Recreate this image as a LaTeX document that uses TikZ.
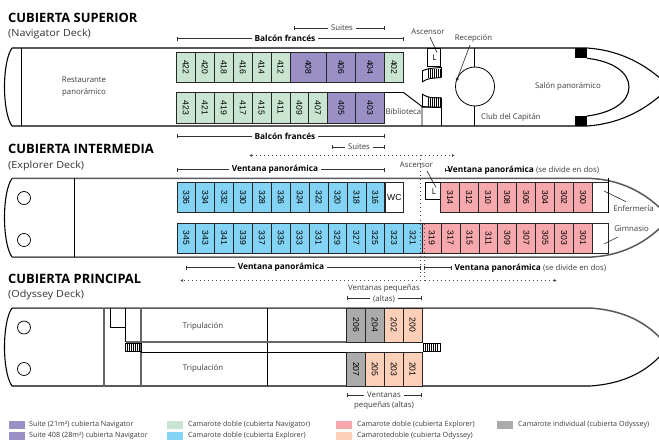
\documentclass[tikz,border=0pt]{standalone}
\usepackage{fontspec}
\setmainfont{Open Sans}
\newfontfamily\numfont{Liberation Sans}
\newfontfamily\subfont[FakeStretch=1.1]{Open Sans}
\usetikzlibrary{arrows.meta}
\definecolor{cgreen}{HTML}{C9E5D1}
\definecolor{cpurple}{HTML}{9A90C6}
\definecolor{cblue}{HTML}{82D3F4}
\definecolor{cpink}{HTML}{F6A8AC}
\definecolor{cpeach}{HTML}{FBCFB8}
\definecolor{cgray}{HTML}{ABABAB}
\definecolor{ink}{HTML}{3C3C3C}
\tikzset{
  hull/.style={line width=1.1pt,black},
  hullg/.style={line width=1.5pt,black!65},
  wall/.style={line width=0.95pt,black},
  wallg/.style={line width=1.3pt,black!60},
  cabinbox/.style={draw=black!85,line width=0.9pt},
  cabinnum/.style={font=\numfont\fontsize{8.6}{9}\selectfont,rotate=-90,text=black,inner sep=0pt},
  lab/.style={font=\fontsize{7.8}{9}\selectfont,text=ink,inner sep=0pt,align=center},
  blab/.style={font=\fontsize{8.3}{10}\selectfont\bfseries,text=black,inner sep=1.5pt},
  head/.style={font=\fontsize{12.9}{14}\selectfont\bfseries,text=black,anchor=base west,inner sep=0pt},
  sub/.style={font=\subfont\fontsize{9.8}{11}\selectfont,text=black!80,anchor=base west,inner sep=0pt},
  dim/.style={line width=0.55pt,black!80,{Bar[width=3.5pt,length=0.6pt]}-{Bar[width=3.5pt,length=0.6pt]}},
  leader/.style={line width=0.6pt,black!85},
  dots/.style={line width=0.9pt,black!70,dash pattern=on 0.9pt off 3.1pt},
  legbox/.style={draw=none,minimum width=16pt,minimum height=8pt,inner sep=0pt,anchor=north west},
  legtxt/.style={font=\fontsize{7.2}{8}\selectfont,text=ink,anchor=west,inner sep=0pt},
  port/.style={draw=black,line width=0.7pt,fill=white,circle,minimum size=13pt,inner sep=0pt},
}
% cabin: x1, x2, y1, y2, colour, number
\newcommand{\cabin}[6]{\fill[#5] (#1,#3) rectangle (#2,#4);\draw[cabinbox] (#1,#3) rectangle (#2,#4);
  \node[cabinnum] (c#6) at ({(#1+#2)/2},{(#3+#4)/2}) {#6};}
\newcommand{\stairstripes}[3]{\foreach \sx in {#1} {\draw[line width=0.55pt] (\sx,#2) -- (\sx,#3);}}
\begin{document}
\begin{tikzpicture}[x=1pt,y=-1pt]
\useasboundingbox (0,0) rectangle (659,441);
\fill[white] (0,0) rectangle (659,441);

% ---- headings
\node[head] (h1) at (8,23) {CUBIERTA SUPERIOR};
\node[sub] (s1) at (8,37) {(Navigator Deck)};
\node[head] (h2) at (8,154) {CUBIERTA INTERMEDIA};
\node[sub] (s2) at (8,168) {(Explorer Deck)};
\node[head] (h3) at (8,283) {CUBIERTA PRINCIPAL};
\node[sub] (s3) at (8,297) {(Odyssey Deck)};

% ---- upper deck hull
\draw[hull] (12,48) -- (587,48) .. controls (617,50) and (642,62) .. (662,80);
\draw[hull] (12,126) -- (587,126) .. controls (617,124) and (642,112) .. (662,94);
\draw[hull] (12,48) .. controls (2,62) and (2,112) .. (12,126);
\draw[wall] (21,48) -- (21,126);
\foreach \n/\a/\b in {422/176.5/195.4,420/195.4/214.4,418/214.4/233.3,416/233.3/252.2,414/252.2/271.1,412/271.1/290}
  {\cabin{\a}{\b}{52}{82.5}{cgreen}{\n}}
\foreach \n/\a/\b in {408/290/326.7,406/326.7/355.6,404/355.6/384.5}
  {\cabin{\a}{\b}{52}{82.5}{cpurple}{\n}}
\cabin{384.5}{403.5}{52}{82.5}{cgreen}{402}
\foreach \n/\a/\b in {423/176.5/195.4,421/195.4/214.4,419/214.4/233.3,417/233.3/252.2,415/252.2/271.1,411/271.1/290,409/290/308.5,407/308.5/327}
  {\cabin{\a}{\b}{92.5}{123}{cgreen}{\n}}
\foreach \n/\a/\b in {405/327/355.6,403/355.6/384.5}
  {\cabin{\a}{\b}{92.5}{123}{cpurple}{\n}}
\draw[wall] (384.5,92.5) -- (403.5,92.5) -- (422,106.5) -- (422,126);
\draw[wall] (441.5,107) -- (441.5,126);
\draw[wall] (422,107) -- (441.5,107.5);
\node[lab,font=\fontsize{7.8}{8}\selectfont] (bib) at (403.4,112) {Biblioteca};
\node[lab] (rest) at (84,86.5) {Restaurante\\[3pt]panorámico};
% lift
\draw[wall,fill=white] (427.5,48) rectangle (440.5,66.5);
\node[font=\fontsize{8}{8}\selectfont,inner sep=0pt] (L1) at (434.5,58) {L};
\coordinate (L1t) at (437,52.5);
\node[lab] (asc1) at (428,32) {Ascensor};
\draw[leader] (430,37) -- (L1t);
% stairs
\draw[wall] (422,71) .. controls (428,68.5) .. (441.5,67.5);
\draw[wall] (422,82) .. controls (428,78.5) .. (441.5,77.5);
\draw[wall] (422,71) -- (422,82);
\draw[wall] (441.5,67.5) -- (441.5,77.5);
\stairstripes{428,430,432,434,436,438,440}{69}{78}
\draw[wall] (422,94) .. controls (428,97.5) .. (441.5,98);
\draw[wall] (422,106.5) .. controls (428,107) .. (441.5,107.5);
\draw[wall] (441.5,98) -- (441.5,107.5);
\draw[wall] (422,94) -- (422,106.5);
\stairstripes{428,430,432,434,436,438,440}{97}{107}
% rotunda
\draw[wall] (474.5,48) -- (474.5,126);
\node[draw=black,line width=0.8pt,fill=white,circle,minimum size=39pt,inner sep=0pt] (rot) at (475,86.5) {};
\node[lab] (rec) at (473.5,38.5) {Recepción};
\draw[leader,-{Latex[length=4pt,width=3.5pt]}] (470,45) -- (456,82);
\node[lab] (club) at (511,117.5) {Club del Capitán};
\node[lab] (salon) at (568,86.5) {Salón panorámico};
% bow
\fill[black] (575,48) rectangle (587,58);
\fill[black] (575,116) rectangle (587,126);
\draw[hull] (587,58.3) .. controls (612,61) and (629,72) .. (629,87) .. controls (629,102) and (612,113) .. (587,116);
% dims
\draw[dim] (294,28) -- (384.5,28);
\node[lab,fill=white,inner xsep=3pt] (suit1) at (342,28) {Suites};
\draw[dim] (176.5,38.5) -- (403.5,38.5);
\node[blab,fill=white,inner xsep=3pt] (bf1) at (285,38.5) {Balcón francés};
\draw[dim] (176.5,136) -- (384.5,136);
\node[blab,fill=white,inner xsep=3pt] (bf2) at (285,136.5) {Balcón francés};
\draw[dim] (332,147) -- (384.5,147);
\node[lab,fill=white,inner xsep=3pt] (suit2) at (359,147) {Suites};

% ---- middle deck
\draw[hullg] (12,178.5) -- (592,178.5) .. controls (620,180) and (644,192) .. (662,210);
\draw[hullg] (12,257) -- (592,257) .. controls (620,255.5) and (644,244) .. (662,226);
\draw[hull] (12,178.5) .. controls (2,192) and (2,243) .. (12,257);
\draw[wall] (74.5,178.5) -- (74.5,257);
\node[port] (p1) at (24,198) {};
\node[port] (p2) at (24,240) {};
\foreach \n [count=\i from 0] in {336,334,332,330,328,326,324,322,320,318,316}
  {\pgfmathsetmacro{\a}{177+\i*18.9}\pgfmathsetmacro{\b}{\a+18.9}\cabin{\a}{\b}{182.5}{212.7}{cblue}{\n}}
\draw[cabinbox] (385,182.5) rectangle (403.7,212.7);
\node[font=\numfont\fontsize{8.6}{9}\selectfont,inner sep=0pt] (wc) at (394.3,197.5) {WC};
\draw[wall,fill=white] (425.5,182) rectangle (440.7,199.5);
\node[font=\fontsize{8}{8}\selectfont,inner sep=0pt] (L2) at (434,192) {L};
\coordinate (L2t) at (436,187.5);
\foreach \n [count=\i from 0] in {314,312,310,308,306,304,302,300}
  {\pgfmathsetmacro{\a}{440.7+\i*18.975}\pgfmathsetmacro{\b}{\a+18.975}\cabin{\a}{\b}{182.5}{212.7}{cpink}{\n}}
\draw[cabinbox] (592.5,182.5) -- (608.5,182.5);
\draw[cabinbox] (592.5,212.7) -- (608.5,212.7);
\draw[wall] (608.5,178.5) -- (608.5,212.7);
\foreach \n [count=\i from 0] in {345,343,341,339,337,335,333,331,329,327,325,323,321}
  {\pgfmathsetmacro{\a}{177+\i*18.87}\pgfmathsetmacro{\b}{\a+18.87}\cabin{\a}{\b}{223}{253.3}{cblue}{\n}}
\foreach \n [count=\i from 0] in {319,317,315,311,309,307,305,303,301}
  {\pgfmathsetmacro{\a}{422.3+\i*18.911}\pgfmathsetmacro{\b}{\a+18.911}\cabin{\a}{\b}{223}{253.3}{cpink}{\n}}
\draw[cabinbox] (592.5,223) rectangle (608.5,253.3);
\node[lab] (asc2) at (416.5,164.5) {Ascensor};
\draw[leader] (427,171) -- (L2t);
\node[lab] (enf) at (633.5,209) {Enfermería};
\node[lab] (gim) at (631.5,228.7) {Gimnasio};
\coordinate (enft) at (604,191);
\coordinate (gimt) at (604,244);
\draw[leader] (626,201.7) -- (enft);
\draw[leader] (618,237) -- (gimt);
% dotted
\draw[dots,-{Latex[length=3pt,width=3pt]}] (420.5,155.5) -- (249,155.5);
\draw[dots,-{Latex[length=3pt,width=3pt]}] (420.5,155.5) -- (455,155.5);
\draw[dots] (420.5,155.5) -- (420.5,280.5);
\draw[dots] (424.5,224) -- (424.5,280.5);
\draw[dots,-{Latex[length=3pt,width=3pt]}] (420.5,280.5) -- (180,280.5);
\draw[dots,-{Latex[length=3pt,width=3pt]}] (424.5,280.5) -- (557,280.5);
% dims
\draw[dim] (177,169.5) -- (385,169.5);
\node[blab,fill=white,inner xsep=3pt] (vp1) at (275,169.5) {Ventana panorámica};
\draw[dim] (445,170) -- (450,170);
\node[inner sep=0pt,anchor=west] (vp2) at (447.5,170) {\fontsize{8.3}{10}\selectfont\bfseries\color{black}Ventana panorámica \fontsize{7.8}{10}\selectfont\mdseries\color{ink}(se divide en dos)};
\draw[dim] (186,267.5) -- (420.5,267.5);
\node[blab,fill=white,inner xsep=3pt] (vp3) at (281,267.5) {Ventana panorámica};
\draw[dim] (424,267.5) -- (452,267.5);
\node[inner sep=0pt,anchor=west] (vp4) at (454.5,268) {\fontsize{8.3}{10}\selectfont\bfseries\color{black}Ventana panorámica \fontsize{7.8}{10}\selectfont\mdseries\color{ink}(se divide en dos)};

% ---- lower deck
\draw[hullg] (12,308) -- (590,308) .. controls (620,310) and (644,320) .. (662,340);
\draw[hull] (12,386) -- (590,386) .. controls (620,384) and (644,374) .. (662,354);
\draw[hull] (12,308) .. controls (2,322) and (2,372) .. (12,386);
\node[port] (p3) at (24,327.5) {};
\node[port] (p4) at (24,369) {};
\draw[wallg] (104,308) -- (104,386);
\draw[wallg] (141,308) -- (141,386);
\draw[wall] (110,308) -- (110,327) -- (125.5,327);
\draw[wall] (125.5,308) -- (125.5,342);
\draw[wall] (267,308) -- (267,386);
\draw[wallg] (125.5,342) -- (422,342);
\draw[wall] (141,352.5) -- (422,352.5);
\node[lab] (trip1) at (203,326.5) {Tripulación};
\node[lab] (trip2) at (203,368.5) {Tripulación};
\draw[wall] (125,343.5) rectangle (141,351);
\stairstripes{127,129,131,133,135,137,139}{343.5}{351}
\draw[wall] (423,343.5) rectangle (440,351);
\stairstripes{425,427,429,431,433,435,437}{343.5}{351}
\cabin{346.7}{365.5}{308}{342}{cgray}{206}
\cabin{365.5}{384.3}{308}{342}{cgray}{204}
\cabin{384.3}{403.2}{308}{342}{cpeach}{202}
\cabin{403.2}{422}{308}{342}{cpeach}{200}
\cabin{346.7}{365.5}{352.5}{386}{cgray}{207}
\cabin{365.5}{384.3}{352.5}{386}{cpeach}{205}
\cabin{384.3}{403.2}{352.5}{386}{cpeach}{203}
\cabin{403.2}{422}{352.5}{386}{cpeach}{201}
\node[lab] (vpq1) at (384,289) {Ventanas pequeñas};
\draw[dim] (346.5,298) -- (422,298);
\node[lab,fill=white,inner xsep=3pt] (vpq2) at (384,299.5) {(altas)};
\draw[dim] (346.5,395) -- (422,395);
\node[lab,fill=white,inner xsep=3pt] (vpq3) at (384,394.5) {Ventanas};
\node[lab] (vpq4) at (384,405) {pequeñas (altas)};

% ---- legend
\node[legbox,fill=cpurple] (k1) at (9,420.5) {};
\node[legbox,fill=cpurple] (k2) at (9,431.5) {};
\node[legbox,fill=cgreen] (k3) at (167,420.5) {};
\node[legbox,fill=cblue] (k4) at (167,431.5) {};
\node[legbox,fill=cpink] (k5) at (336,420.5) {};
\node[legbox,fill=cpeach] (k6) at (336,431.5) {};
\node[legbox,fill=cgray] (k7) at (497,420.5) {};
\node[legtxt] (t1) at (29,424.5) {Suite (21m²) cubierta Navigator};
\node[legtxt] (t2) at (29,435.5) {Suite 408 (28m²) cubierta Navigator};
\node[legtxt] (t3) at (188,424.5) {Camarote doble (cubierta Navigator)};
\node[legtxt] (t4) at (188,435.5) {Camarote doble (cubierta Explorer)};
\node[legtxt] (t5) at (357,424.5) {Camarote doble (cubierta Explorer)};
\node[legtxt] (t6) at (357,435.5) {Camarotedoble (cubierta Odyssey)};
\node[legtxt] (t7) at (518,424.5) {Camarote individual (cubierta Odyssey)};
\end{tikzpicture}
\end{document}
